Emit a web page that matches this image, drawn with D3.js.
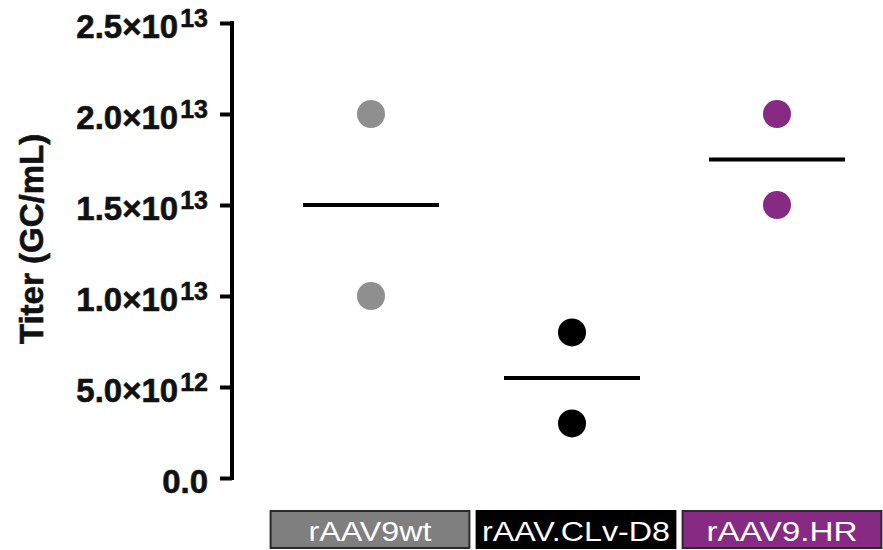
<!DOCTYPE html>
<html>
<head>
<meta charset="utf-8">
<script src="https://cdn.jsdelivr.net/npm/d3@7"></script>
<style>
  html, body { margin: 0; padding: 0; background: #fff; }
  svg { display: block; font-family: "Liberation Sans", Arial, sans-serif; }
</style>
</head>
<body>
<svg id="chart" width="883" height="550"></svg>
<script>
const categories = ["rAAV9wt", "rAAV.CLv-D8", "rAAV9.HR"];
const pointsWt = [2.0e13, 1.0e13];
const pointsCLv = [8.0e12, 3.0e12];
const pointsHR = [2.0e13, 1.5e13];
const means = [1.5e13, 5.5e12, 1.75e13];
const tickValues = [0, 5e12, 1e13, 1.5e13, 2e13, 2.5e13];
const tickMantissa = ["0.0", "5.0×10", "1.0×10", "1.5×10", "2.0×10", "2.5×10"];
const tickExponent = ["", "12", "13", "13", "13", "13"];
const pointColors = ["#8f8f8f", "#000000", "#862a84"];
const boxColors = ["#7f7f7f", "#000000", "#862a84"];
const yTitle = "Titer (GC/mL)";

const series = [pointsWt, pointsCLv, pointsHR];
const svg = d3.select("#chart");

const y = d3.scaleLinear().domain([0, 2.5e13]).range([478, 23]);
const x = d3.scaleBand().domain(categories).range([267, 885]).paddingInner(0.035).paddingOuter(0.0175);
const axisX = 232;

// Axis
const axis = d3.axisLeft(y).tickValues(tickValues).tickSize(12).tickSizeOuter(0).tickFormat("");
const gA = svg.append("g").attr("transform", `translate(${axisX},0)`).call(axis);
gA.select(".domain").attr("stroke", "#000").attr("stroke-width", 4).attr("d", `M0,${y(0)+2}V${y(2.5e13)-2}`);
gA.selectAll(".tick line").attr("stroke", "#000").attr("stroke-width", 4).attr("x2", -12);

// Tick labels
const labels = svg.append("g");
tickValues.forEach((v, i) => {
  const t = labels.append("text")
    .attr("x", 208)
    .attr("y", y(v) + 15)
    .attr("text-anchor", "end")
    .attr("font-weight", "bold")
    .attr("font-size", 33)
    .attr("fill", "#111")
    .attr("stroke", "#111")
    .attr("stroke-width", 0.6);
  t.append("tspan").text(tickMantissa[i]);
  if (tickExponent[i]) {
    t.append("tspan").attr("font-size", 25).attr("dy", -11).attr("dx", 2).text(tickExponent[i]);
  }
});

// Y title
svg.append("text")
  .attr("transform", `translate(43,${239}) rotate(-90)`)
  .attr("text-anchor", "middle")
  .attr("font-weight", "bold")
  .attr("font-size", 33)
  .attr("fill", "#111")
  .attr("stroke", "#111")
  .attr("stroke-width", 0.6)
  .text(yTitle);

// Points and mean lines
const cx = c => x(c) + x.bandwidth() / 2;
const shift = [1, -4, -5];
categories.forEach((c, i) => {
  svg.append("g").selectAll("circle").data(series[i]).join("circle")
    .attr("cx", cx(c) + shift[i])
    .attr("cy", d => y(d))
    .attr("r", 14)
    .attr("fill", pointColors[i]);
  svg.append("line")
    .attr("x1", cx(c) + shift[i] - 68)
    .attr("x2", cx(c) + shift[i] + 68)
    .attr("y1", y(means[i]))
    .attr("y2", y(means[i]))
    .attr("stroke", "#000")
    .attr("stroke-width", 4);
});

// Category boxes
const boxes = svg.append("g");
categories.forEach((c, i) => {
  const bx = x(c), bw = x.bandwidth();
  boxes.append("rect")
    .attr("x", bx).attr("y", 511).attr("width", bw).attr("height", 37)
    .attr("fill", boxColors[i])
    .attr("stroke", i === 1 ? "#000" : "#2a2a2a").attr("stroke-width", 2);
  const tl = [123, 188, 151][i];
  boxes.append("text")
    .attr("x", bx + bw / 2)
    .attr("y", 541)
    .attr("text-anchor", "middle")
    .attr("font-size", 27)
    .attr("fill", "#fff")
    .attr("textLength", tl)
    .attr("lengthAdjust", "spacingAndGlyphs")
    .text(c);
});
</script>
</body>
</html>
